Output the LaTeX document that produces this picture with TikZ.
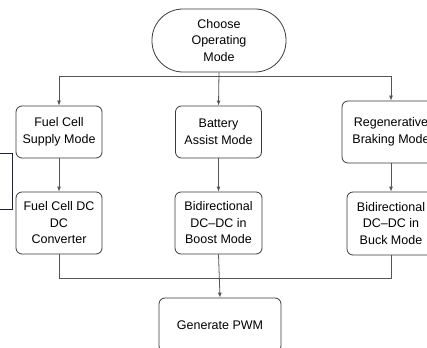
\documentclass[tikz,border=0pt]{standalone}
\usepackage{fontspec}
\setmainfont{Liberation Sans}
\usetikzlibrary{arrows.meta}
\definecolor{boxline}{HTML}{3A3A3A}
\definecolor{conn}{HTML}{555555}
\definecolor{edgebox}{HTML}{1E2230}
\tikzset{
  stepbox/.style={draw=boxline, line width=0.8pt, rounded corners=6pt, align=center,
    inner sep=0pt, font=\fontsize{12.5}{16.5}\selectfont, text=black},
  startbox/.style={stepbox, rounded corners=31pt},
  conline/.style={draw=conn, line width=0.8pt},
  arr/.style={conline, -{Latex[length=5pt,width=4pt]}}
}
\begin{document}
\begin{tikzpicture}[x=1pt,y=-1pt]
\useasboundingbox (0,0) rectangle (427,347);
\clip (0,0) rectangle (427,347);
% partial box at left edge
\draw[draw=edgebox, line width=0.8pt] (-20,153) rectangle (12.5,209);

\node[startbox, minimum width=134pt, minimum height=63pt] (top) at (219,40.5) {Choose\\Operating\\Mode};

\node[stepbox, minimum width=86pt, minimum height=52pt] (l1) at (59,132) {Fuel Cell\\Supply Mode};
\node[stepbox, minimum width=86pt, minimum height=52pt] (m1) at (218.5,132) {Battery\\Assist Mode};
\node[stepbox, minimum width=98pt, minimum height=62pt] (r1) at (391,132) {Regenerative\\Braking Mode};

\node[stepbox, minimum width=86pt, minimum height=62pt] (l2) at (59,223) {Fuel Cell DC\\DC\\Converter};
\node[stepbox, minimum width=87pt, minimum height=62pt] (m2) at (218.5,223) {Bidirectional\\DC–DC in\\Boost Mode};
\node[stepbox, minimum width=88pt, minimum height=63pt] (r2) at (391,223.5) {Bidirectional\\DC–DC in\\Buck Mode};

\node[stepbox, minimum width=122pt, minimum height=54pt] (pwm) at (220,325) {Generate PWM};

\coordinate (j1) at (219,76);
\coordinate (j2) at (219,278);

\draw[arr] (top.south) -- (m1.north);
\draw[arr] (j1) -| (l1.north);
\draw[arr] (j1) -| (r1.north);

\draw[arr] (l1.south) -- (l2.north);
\draw[arr] (m1.south) -- (m2.north);
\draw[arr] (r1.south) -- (r2.north);

\draw[conline] (l2.south) |- (j2);
\draw[conline] (r2.south) |- (j2);
\draw[arr] (m2.south) -- (pwm.north);
\end{tikzpicture}
\end{document}
